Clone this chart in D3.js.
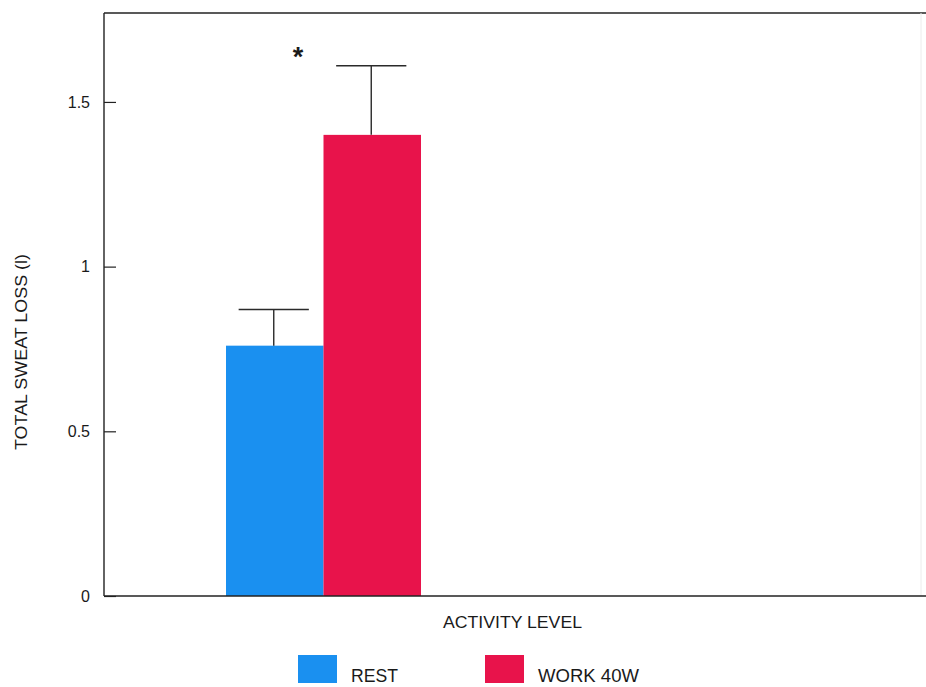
<!DOCTYPE html>
<html>
<head>
<meta charset="utf-8">
<script src="https://cdn.jsdelivr.net/npm/d3@7"></script>
<style>
  html, body { margin: 0; padding: 0; background: #fff; }
  svg { display: block; }
  text { font-family: "Liberation Sans", Arial, Helvetica, sans-serif; fill: #1a1a1a; }
</style>
</head>
<body>
<svg id="chart" width="926" height="687"></svg>
<script>
// Sweat loss by activity level (mean with upper SD bar)
const series = ["REST", "WORK 40W"];
const means = [0.76, 1.40];
const errors = [0.11, 0.21];
const colors = ["#1a90f0", "#e8134b"];
const yTicks = [0, 0.5, 1, 1.5];
const yTickLabels = ["0", "0.5", "1", "1.5"];
const xTitle = "ACTIVITY LEVEL";
const yTitle = "TOTAL SWEAT LOSS (l)";

const svg = d3.select("#chart");
const W = 926, H = 687;
const plot = { left: 104, right: 921, top: 13, bottom: 596 };

const y = d3.scaleLinear().domain([0, 1.77]).range([plot.bottom, plot.top]);
const x = d3.scaleBand().domain(series).range([226, 421]).paddingInner(0).paddingOuter(0);

// frame: top line and faint right edge
svg.append("line")
  .attr("x1", plot.left).attr("x2", W).attr("y1", plot.top).attr("y2", plot.top)
  .attr("stroke", "#222").attr("stroke-width", 1.4);
svg.append("line")
  .attr("x1", plot.right).attr("x2", plot.right).attr("y1", plot.top).attr("y2", plot.bottom)
  .attr("stroke", "#ececec").attr("stroke-width", 1);

// bars
svg.append("g").selectAll("rect")
  .data(series)
  .join("rect")
  .attr("x", d => x(d))
  .attr("width", x.bandwidth())
  .attr("y", (d, i) => y(means[i]))
  .attr("height", (d, i) => y(0) - y(means[i]))
  .attr("fill", (d, i) => colors[i]);

// error bars (upper only)
const eb = svg.append("g").attr("stroke", "#2a2a2a").attr("stroke-width", 1.4);
series.forEach((s, i) => {
  const cx = x(s) + x.bandwidth() / 2 - 1;
  const top = y(means[i] + errors[i]);
  eb.append("line").attr("x1", cx).attr("x2", cx).attr("y1", y(means[i])).attr("y2", top);
  const half = x.bandwidth() * 0.36;
  eb.append("line").attr("x1", cx - half).attr("x2", cx + half).attr("y1", top).attr("y2", top);
});

// significance marker
svg.append("text")
  .attr("x", 298).attr("y", 66)
  .attr("text-anchor", "middle")
  .attr("font-size", 27).attr("font-weight", "bold")
  .text("*");

// y axis with inward ticks
const yAxis = d3.axisLeft(y)
  .tickValues(yTicks)
  .tickFormat((d, i) => yTickLabels[i])
  .tickSize(-12)
  .tickPadding(14);
const gy = svg.append("g").attr("transform", `translate(${plot.left},0)`).call(yAxis);
gy.select(".domain").attr("stroke", "#222").attr("stroke-width", 1.4)
  .attr("d", `M0,${plot.top}V${plot.bottom}`);
gy.selectAll(".tick line").attr("stroke", "#222").attr("stroke-width", 1.2);
gy.selectAll(".tick text").attr("font-size", 16).attr("fill", "#1a1a1a")
  .style("font-family", '"Liberation Sans", Arial, sans-serif');

// x axis baseline
svg.append("line")
  .attr("x1", plot.left).attr("x2", W).attr("y1", y(0)).attr("y2", y(0))
  .attr("stroke", "#222").attr("stroke-width", 1.4);

// axis titles
svg.append("text")
  .attr("x", (plot.left + plot.right) / 2).attr("y", 628)
  .attr("text-anchor", "middle").attr("font-size", 16)
  .attr("textLength", 139).attr("lengthAdjust", "spacingAndGlyphs")
  .text(xTitle);
svg.append("text")
  .attr("transform", `translate(27,${352}) rotate(-90)`)
  .attr("text-anchor", "middle").attr("font-size", 16)
  .attr("textLength", 196).attr("lengthAdjust", "spacingAndGlyphs")
  .text(yTitle);

// legend
const legendX = [298, 485];
const legendW = [47, 101];
const lg = svg.append("g");
series.forEach((s, i) => {
  lg.append("rect").attr("x", legendX[i]).attr("y", 655).attr("width", 39).attr("height", 28)
    .attr("fill", colors[i]);
  lg.append("text").attr("x", legendX[i] + 53).attr("y", 682)
    .attr("font-size", 18)
    .attr("textLength", legendW[i]).attr("lengthAdjust", "spacingAndGlyphs")
    .text(s);
});
</script>
</body>
</html>
